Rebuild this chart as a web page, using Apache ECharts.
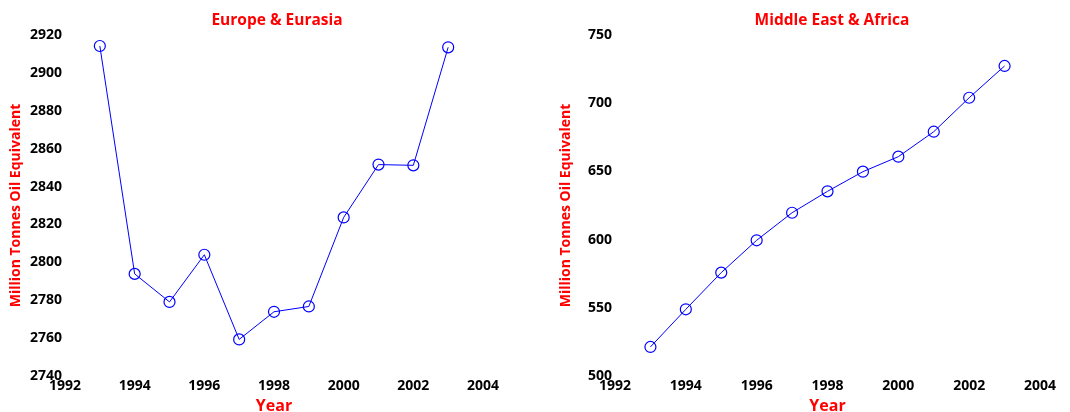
<!DOCTYPE html>
<html>
<head>
<meta charset="utf-8">
<script src="https://cdn.jsdelivr.net/npm/echarts@6/dist/echarts.min.js"></script>
<style>
  html, body { margin: 0; padding: 0; background: #fff; }
  #chart { width: 1070px; height: 412px; }
</style>
</head>
<body>
<div id="chart"></div>
<script>
// Primary energy consumption by region, 1993-2003
const years = [1993, 1994, 1995, 1996, 1997, 1998, 1999, 2000, 2001, 2002, 2003];
const europeEurasia = [2914.2, 2793.9, 2779.1, 2804.0, 2759.3, 2773.9, 2776.7, 2823.7, 2851.6, 2851.2, 2913.5];
const middleEastAfrica = [521.3, 548.9, 575.8, 599.5, 619.7, 635.4, 649.8, 660.8, 679.1, 704.0, 727.3];
const panelTitles = ['Europe & Eurasia', 'Middle East & Africa'];
const xAxisName = 'Year';
const yAxisName = 'Million Tonnes Oil Equivalent';

const FONT = 'Open Sans';
const RED = '#ff0000';
const BLUE = '#0000ff';

const pairs = arr => years.map((y, i) => [y, arr[i]]);
const plain = v => String(v);

const chart = echarts.init(document.getElementById('chart'), null, { renderer: 'canvas' });

function xAxis(gridIndex) {
  return {
    type: 'value', gridIndex, min: 1992, max: 2004, interval: 2,
    name: xAxisName, nameLocation: 'middle', nameGap: 22,
    nameTextStyle: { color: RED, fontFamily: FONT, fontWeight: 'bold', fontSize: 16 },
    axisLine: { show: false }, axisTick: { show: false }, splitLine: { show: false },
    axisLabel: { color: '#000', fontFamily: FONT, fontWeight: 'bold', fontSize: 14, margin: 3, formatter: plain }
  };
}
function yAxis(gridIndex, min, max, interval) {
  return {
    type: 'value', gridIndex, min, max, interval,
    name: yAxisName, nameLocation: 'middle', nameGap: 42,
    nameTextStyle: { color: RED, fontFamily: FONT, fontWeight: 'bold', fontSize: 14 },
    axisLine: { show: false }, axisTick: { show: false }, splitLine: { show: false },
    axisLabel: { color: '#000', fontFamily: FONT, fontWeight: 'bold', fontSize: 14, margin: 3, formatter: plain }
  };
}
function series(idx, data) {
  return {
    type: 'line', xAxisIndex: idx, yAxisIndex: idx, data: pairs(data),
    symbol: 'circle', symbolSize: 11,
    lineStyle: { color: BLUE, width: 1 },
    itemStyle: { color: 'rgba(255,255,255,0)', borderColor: BLUE, borderWidth: 1.2 },
    silent: true, animation: false
  };
}

chart.setOption({
  backgroundColor: '#fff',
  animation: false,
  title: [
    { text: panelTitles[0], left: 272, top: 8, textAlign: 'center',
      textStyle: { color: RED, fontFamily: FONT, fontWeight: 'bold', fontSize: 15.5 } },
    { text: panelTitles[1], left: 827, top: 8, textAlign: 'center',
      textStyle: { color: RED, fontFamily: FONT, fontWeight: 'bold', fontSize: 15.5 } }
  ],
  grid: [
    { left: 65, width: 418, top: 35, bottom: 36, containLabel: false, outerBoundsMode: 'none' },
    { left: 615, width: 425, top: 35, bottom: 36, containLabel: false, outerBoundsMode: 'none' }
  ],
  xAxis: [xAxis(0), xAxis(1)],
  yAxis: [yAxis(0, 2740, 2920, 20), yAxis(1, 500, 750, 50)],
  series: [series(0, europeEurasia), series(1, middleEastAfrica)]
});
</script>
</body>
</html>
